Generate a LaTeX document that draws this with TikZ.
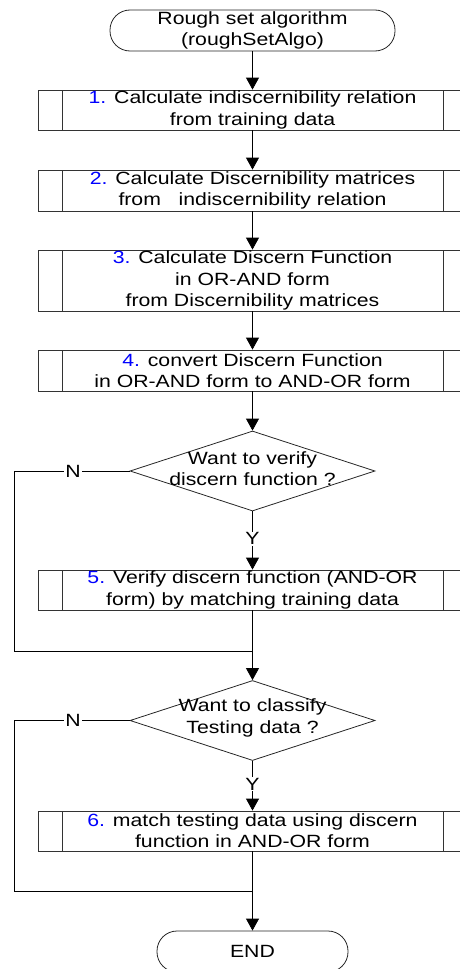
\documentclass[tikz,border=0pt]{standalone}
\usepackage{fontspec}
\setmainfont{Liberation Sans}[FakeStretch=1.2]
\usetikzlibrary{shapes.geometric,arrows.meta}
\definecolor{numblue}{RGB}{0,0,255}
\begin{document}
\begin{tikzpicture}[x=1pt,y=1pt,
  font=\fontsize{17.7}{21.3}\selectfont,
  lw/.style={line width=0.8pt},
  term/.style={draw=black!85,lw,rectangle,rounded corners=20pt,minimum height=41pt,inner sep=0pt},
  proc/.style={draw=black!80,lw,rectangle,minimum width=429pt,inner sep=0pt,align=center,
    path picture={\draw[black!80,lw]([xshift=24pt]path picture bounding box.north west)--([xshift=24pt]path picture bounding box.south west)
      ([xshift=-24pt]path picture bounding box.north east)--([xshift=-24pt]path picture bounding box.south east);}},
  dec/.style={draw=black!85,lw,diamond,minimum width=245pt,minimum height=80pt,inner sep=0pt},
  lbl/.style={fill=white,inner sep=1pt},
  arr/.style={lw,-{Triangle[width=13pt,length=12pt]}},
  ln/.style={lw}]
\useasboundingbox (0,0) rectangle (460,-969);
\node[term,minimum width=285pt,align=center] (start) at (252.5,-30.5) {Rough set algorithm\\(roughSetAlgo)};
\node[proc,minimum height=40pt] (b1) at (252.5,-110) {\textcolor{numblue}{1.} Calculate indiscernibility relation\\from training data};
\node[proc,minimum height=41pt] (b2) at (252.5,-190.5) {\textcolor{numblue}{2.} Calculate Discernibility matrices\\from\ \ \ indiscernibility relation};
\node[proc,minimum height=61pt] (b3) at (252.5,-280.5) {\textcolor{numblue}{3.} Calculate Discern Function\\in OR-AND form\\from Discernibility matrices};
\node[proc,minimum height=41pt] (b4) at (252.5,-370.5) {\textcolor{numblue}{4.} convert Discern Function\\in OR-AND form to AND-OR form};
\node[dec] (d1) at (252.5,-471) {};
\node[align=center] (t1) at (252.5,-469) {Want to verify\\discern function ?};
\node[proc,minimum height=40pt] (b5) at (252.5,-590) {\textcolor{numblue}{5.} Verify discern function (AND-OR\\form) by matching training data};
\coordinate (j1) at (252.5,-651);
\node[dec] (d2) at (252.5,-720.5) {};
\node[align=center] (t2) at (252.5,-718) {Want to classify\\Testing data ?};
\node[proc,minimum height=40pt] (b6) at (252.5,-831) {\textcolor{numblue}{6.} match testing data using discern\\function in AND-OR form};
\coordinate (j2) at (252.5,-891);
\node[term,minimum width=191pt] (end) at (252.5,-951.5) {END};
\draw[arr] (start) -- (b1);
\draw[arr] (b1) -- (b2);
\draw[arr] (b2) -- (b3);
\draw[arr] (b3) -- (b4);
\draw[arr] (b4) -- (d1.north);
\draw[arr] (d1.south) -- node[lbl,pos=0.47] (y1) {Y} (b5);
\draw[ln] (d1.west) -- node[lbl,pos=0.49] (n1) {N} (14,-471) -- (14,-651) -- (j1);
\draw[ln] (b5) -- (j1);
\draw[arr] (j1) -- (d2.north);
\draw[arr] (d2.south) -- node[lbl,pos=0.47] (y2) {Y} (b6);
\draw[ln] (d2.west) -- node[lbl,pos=0.49] (n2) {N} (14,-720.5) -- (14,-891) -- (j2);
\draw[ln] (b6) -- (j2);
\draw[arr] (j2) -- (end);
\end{tikzpicture}
\end{document}
